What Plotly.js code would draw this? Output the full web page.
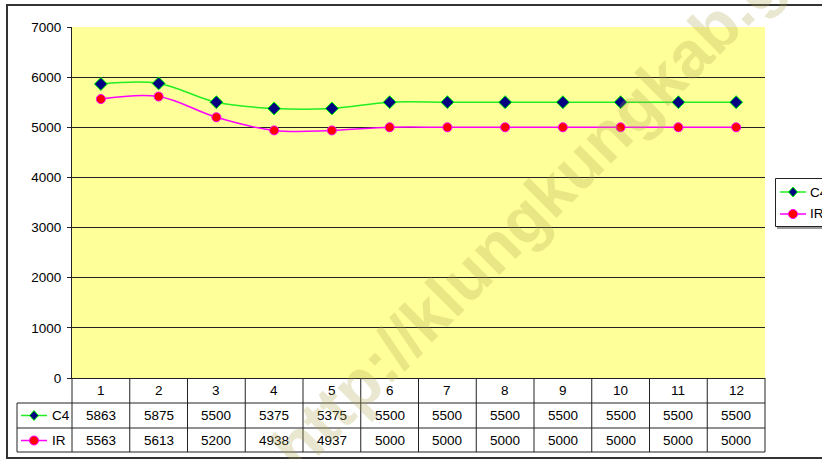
<!DOCTYPE html>
<html>
<head>
<meta charset="utf-8">
<script src="https://cdn.plot.ly/plotly-3.0.1.min.js"></script>
<style>
  body { margin: 0; background: #fff; }
  #plot { width: 822px; height: 459px; }
</style>
</head>
<body>
<div id="plot"></div>
<script>
// === DATOS ===
var months = [1, 2, 3, 4, 5, 6, 7, 8, 9, 10, 11, 12];
var c4Values = [5863, 5875, 5500, 5375, 5375, 5500, 5500, 5500, 5500, 5500, 5500, 5500];
var irValues = [5563, 5613, 5200, 4938, 4937, 5000, 5000, 5000, 5000, 5000, 5000, 5000];
var seriesNames = ['C4', 'IR'];

// plot area in pixels
var L = 72, R = 765, T = 27, B = 378;
var W = R - L, H = B - T;
function px(x) { return (x - L) / W; }
function py(y) { return (B - y) / H; }

var FONT = 'Liberation Sans, Arial, sans-serif';
var FS = 13.5;

function drawChart() {
    var traceC4 = {
        x: months,
        y: c4Values,
        name: seriesNames[0],
        mode: 'lines+markers',
        type: 'scatter',
        line: { color: '#22ee22', width: 1.5, shape: 'spline', smoothing: 1 },
        marker: { symbol: 'diamond', size: 10, color: '#000080', line: { color: '#00ff00', width: 1 } }
    };
    var traceIR = {
        x: months,
        y: irValues,
        name: seriesNames[1],
        mode: 'lines+markers',
        type: 'scatter',
        line: { color: '#ff00ff', width: 1.5, shape: 'spline', smoothing: 1 },
        marker: { symbol: 'circle', size: 9, color: '#ff0000', line: { color: '#ff00ff', width: 1 } }
    };

    var shapes = [];
    var annotations = [];
    var lineStyle = { color: '#222', width: 1 };

    // outer chart border
    shapes.push({
        type: 'rect', xref: 'paper', yref: 'paper',
        x0: px(7), x1: px(840), y0: py(458), y1: py(5),
        line: { color: '#333', width: 2 }
    });

    // === TABLA DE DATOS ===
    // vertical column lines
    for (var k = 0; k <= months.length; k++) {
        var xp = k / months.length;
        shapes.push({ type: 'line', xref: 'paper', yref: 'paper', x0: xp, x1: xp, y0: py(B), y1: py(452), line: lineStyle });
    }
    // horizontal row lines
    [403, 428, 452].forEach(function (yy) {
        shapes.push({ type: 'line', xref: 'paper', yref: 'paper', x0: px(17), x1: 1, y0: py(yy), y1: py(yy), line: lineStyle });
    });
    shapes.push({ type: 'line', xref: 'paper', yref: 'paper', x0: px(17), x1: px(17), y0: py(403), y1: py(452), line: lineStyle });

    // cell texts
    for (var i = 0; i < months.length; i++) {
        annotations.push(cellText(months[i], i + 1, 390.5));
        annotations.push(cellText(c4Values[i], i + 1, 415.5));
        annotations.push(cellText(irValues[i], i + 1, 440.5));
    }

    // row keys inside table
    addKey(shapes, annotations, 21, 47, 415.5, seriesNames[0], 50, 'diamond');
    addKey(shapes, annotations, 21, 47, 440.5, seriesNames[1], 50, 'circle');

    // === LEYENDA ===
    shapes.push({ type: 'rect', xref: 'paper', yref: 'paper', x0: px(777), x1: px(842), y0: py(229), y1: py(180), fillcolor: '#999', line: { width: 0 } });
    shapes.push({ type: 'rect', xref: 'paper', yref: 'paper', x0: px(775.5), x1: px(840), y0: py(226.5), y1: py(178.5), fillcolor: '#fff', line: { color: '#222', width: 1 } });
    addKey(shapes, annotations, 780, 806, 192, seriesNames[0], 808, 'diamond');
    addKey(shapes, annotations, 780, 806, 214, seriesNames[1], 808, 'circle');

    // watermark
    annotations.push({
        xref: 'paper', yref: 'paper', x: px(568), y: py(174),
        xanchor: 'center', yanchor: 'middle',
        text: '<b>http://klungkungkab.go.id</b>',
        showarrow: false, textangle: -45,
        font: { family: FONT, size: 66, color: 'rgba(175,165,80,0.27)' }
    });

    var layout = {
        width: 822,
        height: 459,
        margin: { l: L, r: 822 - R, t: T, b: 459 - B, pad: 0 },
        paper_bgcolor: '#ffffff',
        plot_bgcolor: '#ffff99',
        showlegend: false,
        font: { family: FONT, size: FS, color: '#000' },
        xaxis: {
            range: [0.5, 12.5],
            showgrid: false, zeroline: false,
            showline: true, linecolor: '#222', linewidth: 1,
            showticklabels: false, ticks: ''
        },
        yaxis: {
            range: [0, 7000], dtick: 1000,
            showgrid: true, gridcolor: '#222', gridwidth: 1,
            zeroline: false,
            showline: true, linecolor: '#222', linewidth: 1,
            ticks: 'outside', ticklen: 4, tickcolor: '#222',
            ticklabelstandoff: 3,
            tickfont: { family: FONT, size: FS, color: '#000' }
        },
        shapes: shapes,
        annotations: annotations
    };

    Plotly.newPlot('plot', [traceC4, traceIR], layout, { staticPlot: true });
}

function cellText(value, xVal, yPix) {
    return {
        xref: 'x', yref: 'paper', x: xVal, y: py(yPix),
        text: String(value), showarrow: false,
        xanchor: 'center', yanchor: 'middle',
        font: { family: FONT, size: FS, color: '#000' }
    };
}

function addKey(shapes, annotations, x0, x1, yPix, label, textX, symbol) {
    var mid = (x0 + x1) / 2;
    var color = symbol === 'diamond' ? '#22ee22' : '#ff00ff';
    shapes.push({ type: 'line', xref: 'paper', yref: 'paper', x0: px(x0), x1: px(x1), y0: py(yPix), y1: py(yPix), line: { color: color, width: 1.5 } });
    if (symbol === 'diamond') {
        shapes.push({
            type: 'path', xref: 'paper', yref: 'paper',
            xsizemode: 'pixel', ysizemode: 'pixel', xanchor: px(mid), yanchor: py(yPix),
            path: 'M0,5 L4.5,0 L0,-5 L-4.5,0 Z',
            fillcolor: '#000080', line: { color: '#00ff00', width: 1 }
        });
    } else {
        shapes.push({
            type: 'circle', xref: 'paper', yref: 'paper',
            xsizemode: 'pixel', ysizemode: 'pixel', xanchor: px(mid), yanchor: py(yPix),
            x0: -4.5, x1: 4.5, y0: -4.5, y1: 4.5,
            fillcolor: '#ff0000', line: { color: '#ff00ff', width: 1 }
        });
    }
    annotations.push({
        xref: 'paper', yref: 'paper', x: px(textX), y: py(yPix),
        text: label, showarrow: false, xanchor: 'left', yanchor: 'middle',
        font: { family: FONT, size: FS, color: '#000' }
    });
}

drawChart();
</script>
</body>
</html>
